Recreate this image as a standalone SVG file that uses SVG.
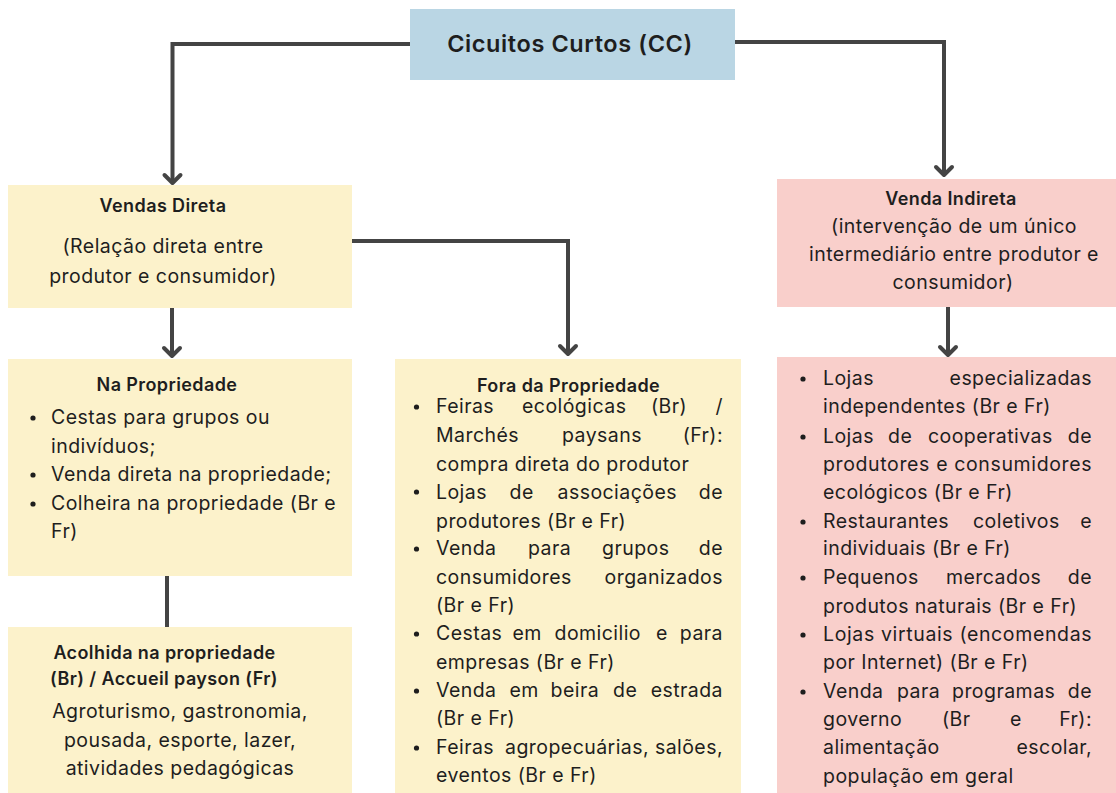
<svg xmlns="http://www.w3.org/2000/svg" width="1116" height="793" viewBox="0 0 1116 793">
<style>
.t{font-family:Inter,"Liberation Sans",sans-serif;font-size:19.5px;letter-spacing:0.45px;fill:#1e1e1e}
.h{font-family:Inter,"Liberation Sans",sans-serif;font-size:18px;letter-spacing:0.4px;font-weight:600;fill:#1e1e1e}
.c{text-anchor:middle}
.e{text-anchor:end}
.yl{fill:#fcf2cb}
.pk{fill:#f9cfcb}
.bl{fill:#bad6e4}
.dot{fill:#1e1e1e}
.ln{fill:none;stroke:#444;stroke-width:4}
</style>
<defs>
<marker id="ar" viewBox="-12 -12 24 24" markerWidth="24" markerHeight="24" refX="0" refY="0" orient="auto" markerUnits="userSpaceOnUse">
<path d="M-8,-8 L0,0 L-8,8" fill="none" stroke="#444" stroke-width="4" stroke-linecap="round" stroke-linejoin="round"/>
</marker>
</defs>
<rect width="1116" height="793" fill="#fff"/>

<g id="connectors">
<path class="ln" d="M410,44 H172.5 V183" marker-end="url(#ar)"/>
<path class="ln" d="M735,42 H944 V175" marker-end="url(#ar)"/>
<path class="ln" d="M352,241 H568 V354" marker-end="url(#ar)"/>
<path class="ln" d="M172,308 V356" marker-end="url(#ar)"/>
<path class="ln" d="M948,307 V355" marker-end="url(#ar)"/>
<path class="ln" d="M167,576 V627"/>
</g>

<g id="cc">
<rect class="bl" x="410" y="9" width="325" height="71"/>
<text class="h c" x="570" y="52" style="font-size:23.5px;letter-spacing:0.6px">Cicuitos Curtos (CC)</text>
</g>

<g id="vendas-direta">
<rect class="yl" x="8" y="185" width="344" height="123"/>
<text class="h c" x="163" y="212">Vendas Direta</text>
<text class="t c" x="163" y="253">(Relação direta entre</text>
<text class="t c" x="163" y="283">produtor e consumidor)</text>
</g>

<g id="venda-indireta">
<rect class="pk" x="777" y="179" width="339" height="128"/>
<text class="h c" x="951" y="205">Venda Indireta</text>
<text class="t c" x="954" y="233">(intervenção de um único</text>
<text class="t c" x="954" y="261">intermediário entre produtor e</text>
<text class="t c" x="953" y="289">consumidor)</text>
</g>

<g id="na-propriedade">
<rect class="yl" x="8" y="359" width="344" height="217"/>
<text class="h c" x="167" y="391">Na Propriedade</text>
<circle class="dot" cx="33" cy="418" r="2.6"/>
<circle class="dot" cx="33" cy="475" r="2.6"/>
<circle class="dot" cx="33" cy="504" r="2.6"/>
<text class="t" x="51" y="424">Cestas para grupos ou</text>
<text class="t" x="51" y="453">indivíduos;</text>
<text class="t" x="51" y="481">Venda direta na propriedade;</text>
<text class="t" x="51" y="510">Colheira na propriedade (Br e</text>
<text class="t" x="51" y="538">Fr)</text>
</g>

<g id="acolhida">
<rect class="yl" x="8" y="627" width="344" height="166"/>
<text class="h c" x="164.5" y="659">Acolhida na propriedade</text>
<text class="h c" x="164" y="685">(Br) / Accueil payson (Fr)</text>
<text class="t c" x="180" y="718">Agroturismo, gastronomia,</text>
<text class="t c" x="180" y="747">pousada, esporte, lazer,</text>
<text class="t c" x="180" y="775">atividades pedagógicas</text>
</g>

<g id="fora-da-propriedade">
<rect class="yl" x="395" y="359" width="346" height="434"/>
<text class="h c" x="568.5" y="392">Fora da Propriedade</text>
<circle class="dot" cx="416.5" cy="407" r="2.6"/>
<circle class="dot" cx="416.5" cy="492" r="2.6"/>
<circle class="dot" cx="416.5" cy="549" r="2.6"/>
<circle class="dot" cx="416.5" cy="634" r="2.6"/>
<circle class="dot" cx="416.5" cy="691" r="2.6"/>
<circle class="dot" cx="416.5" cy="748" r="2.6"/>
<text class="t" y="413"><tspan x="436">Feiras</tspan><tspan x="522">ecológicas</tspan><tspan x="651">(Br)</tspan></text>
<text class="t e" x="723" y="413">/</text>
<text class="t" y="442"><tspan x="436">Marchés</tspan><tspan x="562">paysans</tspan></text>
<text class="t e" x="723" y="442">(Fr):</text>
<text class="t" x="436" y="471">compra direta do produtor</text>
<text class="t" y="499"><tspan x="436">Lojas</tspan><tspan x="509.5">de</tspan><tspan x="557.5">associações</tspan></text>
<text class="t e" x="723" y="499">de</text>
<text class="t" x="436" y="528">produtores (Br e Fr)</text>
<text class="t" y="555"><tspan x="436">Venda</tspan><tspan x="528">para</tspan><tspan x="602">grupos</tspan></text>
<text class="t e" x="723" y="555">de</text>
<text class="t" x="436" y="584">consumidores</text>
<text class="t e" x="723" y="584">organizados</text>
<text class="t" x="436" y="612">(Br e Fr)</text>
<text class="t" y="640"><tspan x="436">Cestas</tspan><tspan x="512.5">em</tspan><tspan x="554.5">domicilio</tspan><tspan x="656">e</tspan></text>
<text class="t e" x="723" y="640">para</text>
<text class="t" x="436" y="669">empresas (Br e Fr)</text>
<text class="t" y="697"><tspan x="436">Venda</tspan><tspan x="509.5">em</tspan><tspan x="550.5">beira</tspan><tspan x="613">de</tspan></text>
<text class="t e" x="723" y="697">estrada</text>
<text class="t" x="436" y="725">(Br e Fr)</text>
<text class="t" x="436" y="754">Feiras</text>
<text class="t" x="505" y="754">agropecuárias,</text>
<text class="t e" x="723" y="754">salões,</text>
<text class="t" x="436" y="782">eventos (Br e Fr)</text>
</g>

<g id="lojas-indireta">
<rect class="pk" x="777" y="357" width="339" height="436"/>
<circle class="dot" cx="803" cy="379" r="2.6"/>
<circle class="dot" cx="803" cy="437" r="2.6"/>
<circle class="dot" cx="803" cy="522" r="2.6"/>
<circle class="dot" cx="803" cy="578" r="2.6"/>
<circle class="dot" cx="803" cy="635" r="2.6"/>
<circle class="dot" cx="803" cy="692" r="2.6"/>
<text class="t" x="823" y="385">Lojas</text>
<text class="t e" x="1092" y="385">especializadas</text>
<text class="t" x="823" y="413">independentes (Br e Fr)</text>
<text class="t" y="443"><tspan x="823">Lojas</tspan><tspan x="888">de</tspan><tspan x="928">cooperativas</tspan></text>
<text class="t e" x="1092" y="443">de</text>
<text class="t" x="823" y="471" textLength="269" lengthAdjust="spacing">produtores e consumidores</text>
<text class="t" x="823" y="499">ecológicos (Br e Fr)</text>
<text class="t" y="528"><tspan x="823">Restaurantes</tspan><tspan x="973">coletivos</tspan></text>
<text class="t e" x="1092" y="528">e</text>
<text class="t" x="823" y="555">individuais (Br e Fr)</text>
<text class="t" y="584"><tspan x="823">Pequenos</tspan><tspan x="946">mercados</tspan></text>
<text class="t e" x="1092" y="584">de</text>
<text class="t" x="823" y="613">produtos naturais (Br e Fr)</text>
<text class="t" x="823" y="641" textLength="269" lengthAdjust="spacing">Lojas virtuais (encomendas</text>
<text class="t" x="823" y="669">por Internet) (Br e Fr)</text>
<text class="t" y="698"><tspan x="823">Venda</tspan><tspan x="897">para</tspan><tspan x="952">programas</tspan></text>
<text class="t e" x="1092" y="698">de</text>
<text class="t" y="726"><tspan x="823">governo</tspan><tspan x="942">(Br</tspan><tspan x="1010">e</tspan></text>
<text class="t e" x="1092" y="726">Fr):</text>
<text class="t" x="823" y="754">alimentação</text>
<text class="t e" x="1092" y="754">escolar,</text>
<text class="t" x="823" y="783">população em geral</text>
</g>
</svg>
